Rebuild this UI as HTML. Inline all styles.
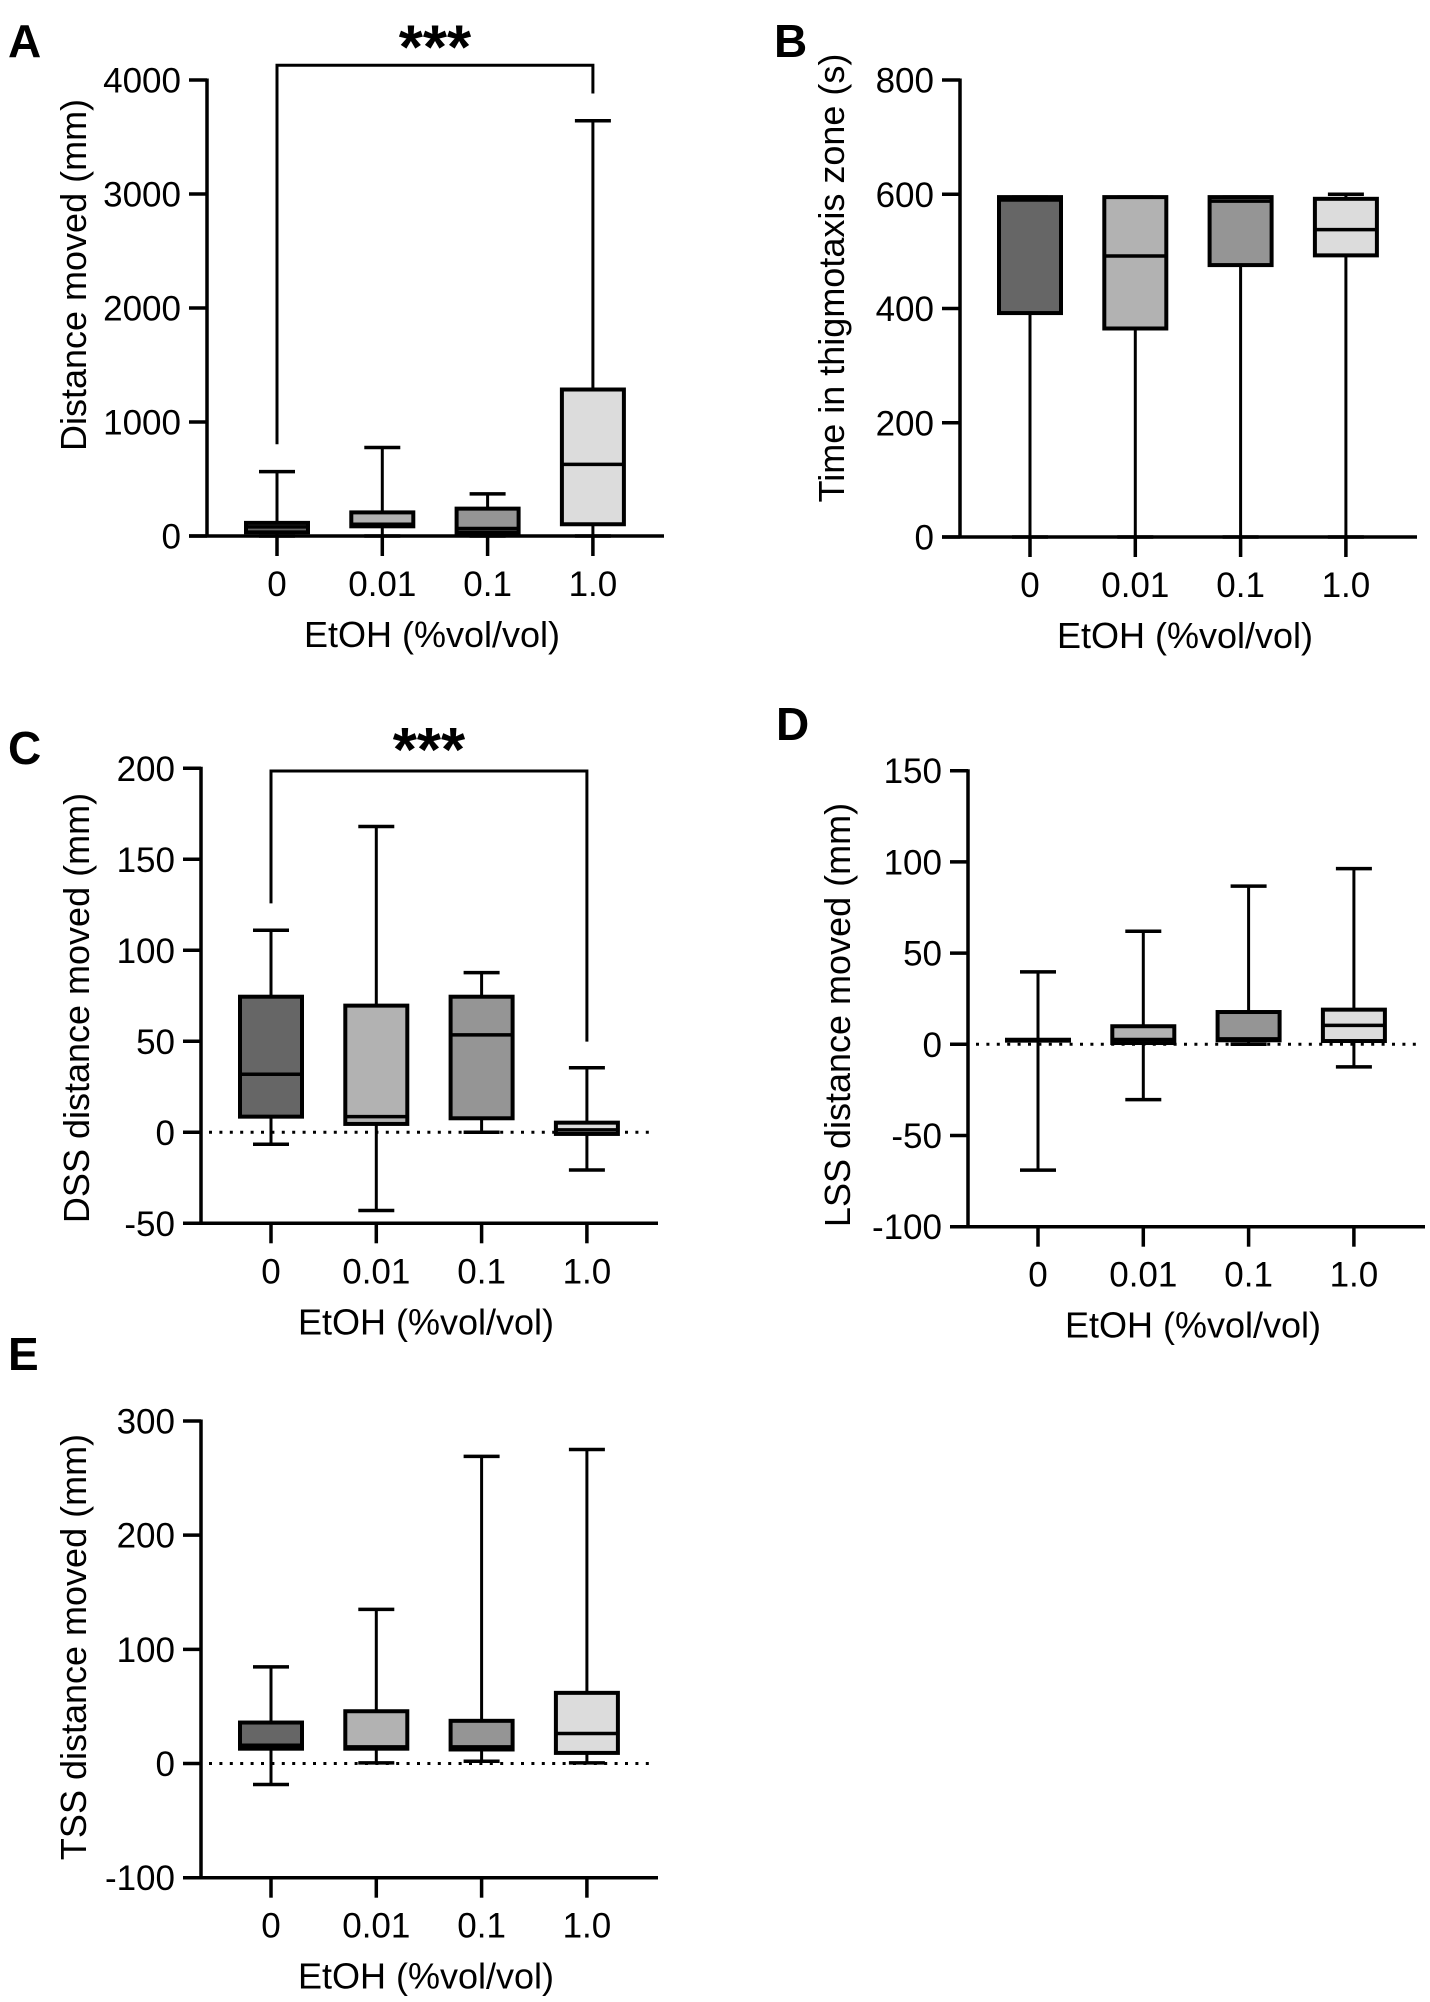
<!DOCTYPE html>
<html><head><meta charset="utf-8"><style>
html,body{margin:0;padding:0;background:#fff}
svg{display:block}
text{font-family:"Liberation Sans",Arial,sans-serif;fill:#000}
</style></head><body>
<svg id="fig" width="1430" height="2002" viewBox="0 0 1430 2002" xmlns="http://www.w3.org/2000/svg"></svg>
<script>
const categories = ["0", "0.01", "0.1", "1.0"];
const groupColors = ["#666666", "#b2b2b2", "#959595", "#dcdcdc"];

const aTicks = [0, 1000, 2000, 3000, 4000];
const aMin = [0, 0, 0, 0];
const aQ1 = [32, 85, 30, 103];
const aMed = [80, 103, 66, 628];
const aQ3 = [115, 207, 240, 1285];
const aMax = [565, 776, 369, 3642];
const aBracket = [805, 4129, 3882];

const bTicks = [0, 200, 400, 600, 800];
const bMin = [0, 0, 0, 0];
const bQ1 = [392, 365, 476, 493];
const bMed = [590, 492, 588, 538];
const bQ3 = [595, 595, 595, 592];
const bMax = [595, 595, 595, 600];

const cTicks = [-50, 0, 50, 100, 150, 200];
const cMin = [-6.6, -43, 0, -20.7];
const cQ1 = [8.6, 4.6, 7.7, -0.9];
const cMed = [31.9, 8.6, 53.5, 1.3];
const cQ3 = [74.5, 69.6, 74.5, 5.3];
const cMax = [111, 168, 87.7, 35.5];
const cBracket = [125.8, 198.5, 49.8];

const dTicks = [-100, -50, 0, 50, 100, 150];
const dMin = [-69, -30.3, 0, -12.4];
const dQ1 = [2, 0.7, 2.2, 1.8];
const dMed = [2.2, 2.6, 3, 10.4];
const dQ3 = [2.5, 9.9, 17.7, 19];
const dMax = [39.7, 62, 86.7, 96.3];

const eTicks = [-100, 0, 100, 200, 300];
const eMin = [-18.4, 0.6, 2, 0.6];
const eQ1 = [13, 13, 12.3, 9.3];
const eMed = [16, 14.6, 14.6, 26.3];
const eQ3 = [35.9, 45.8, 37.4, 61.9];
const eMax = [84.7, 135, 269, 275];

const NS = "http://www.w3.org/2000/svg";
const svg = document.getElementById("fig");
function mk(tag, attrs, parent) {
  const e = document.createElementNS(NS, tag);
  for (const k in attrs) e.setAttribute(k, attrs[k]);
  (parent || svg).appendChild(e);
  return e;
}

function panel(p) {
  const g = mk("g", {});
  
  
  const y = v => p.yBot + (v - p.vMin) / (p.vMax - p.vMin) * (p.yTop - p.yBot);
  const x = i => p.ax + 70 + 105.3 * i;
  const lw = 3.5;
  // panel letter
  const L = mk("text", {x: p.lx, y: p.ly, "font-size": 46, "font-weight": "bold"}, g);
  L.textContent = p.id.toUpperCase();
  
  
  // zero dotted line
  if (p.zero) {
    const z = mk("line", {x1: p.ax + 8, x2: p.ax + 452, y1: y(0), y2: y(0), stroke: "#000", "stroke-width": 3, "stroke-dasharray": "3 7.4"}, g);
    
    
  }
  // y axis
  const ya = mk("line", {x1: p.ax, x2: p.ax, y1: p.yTop - 1.5, y2: p.yBot + 1.5, stroke: "#000", "stroke-width": lw}, g);
  
  
  p.ticks.forEach(t => {
    const tl = mk("line", {x1: p.ax - 18, x2: p.ax, y1: y(t), y2: y(t), stroke: "#000", "stroke-width": lw}, g);
    
    
    const tx = mk("text", {x: p.ax - 26, y: y(t) + 12.5, "font-size": 35, "text-anchor": "end"}, g);
    tx.textContent = t;
    
    
  });
  // x axis
  const xa = mk("line", {x1: p.ax - 18, x2: p.ax + 457, y1: p.yBot, y2: p.yBot, stroke: "#000", "stroke-width": lw}, g);
  
  
  categories.forEach((c, i) => {
    const tl = mk("line", {x1: x(i), x2: x(i), y1: p.yBot, y2: p.yBot + 20, stroke: "#000", "stroke-width": lw}, g);
    
    
    const tx = mk("text", {x: x(i), y: p.yBot + 60, "font-size": 35, "text-anchor": "middle"}, g);
    tx.textContent = c;
    
    
  });
  const xt = mk("text", {x: p.ax + 225, y: p.yBot + 111, "font-size": 36, "text-anchor": "middle"}, g);
  xt.textContent = "EtOH (%vol/vol)";
  
  
  const yt = mk("text", {x: 0, y: 0, "font-size": 36, "text-anchor": "middle", transform: "translate(" + p.tx + "," + p.ty + ") rotate(-90)"}, g);
  yt.textContent = p.title;
  
  
  // boxes
  categories.forEach((c, i) => {
    const cx = x(i);
    const bg = mk("g", {}, g);
    
    
    const w1 = mk("line", {x1: cx, x2: cx, y1: y(p.max[i]), y2: y(p.q3[i]), stroke: "#000", "stroke-width": 3}, bg);
    
    
    const w2 = mk("line", {x1: cx, x2: cx, y1: y(p.q1[i]), y2: y(p.min[i]), stroke: "#000", "stroke-width": 3}, bg);
    
    
    [p.max[i], p.min[i]].forEach(v => {
      const cap = mk("line", {x1: cx - 18, x2: cx + 18, y1: y(v), y2: y(v), stroke: "#000", "stroke-width": 3.5}, bg);
      
      
    });
    const top = y(p.q3[i]), bot = y(p.q1[i]);
    const r = mk("rect", {x: cx - 31, y: top, width: 62, height: Math.max(bot - top, 0.5), fill: groupColors[i], stroke: "#000", "stroke-width": 4}, bg);
    
    
    const m = mk("line", {x1: cx - 31, x2: cx + 31, y1: y(p.med[i]), y2: y(p.med[i]), stroke: "#000", "stroke-width": 3.5}, bg);
    
    
  });
  // significance bracket
  if (p.bracket) {
    const b = p.bracket;
    const pl = mk("polyline", {points: [x(0), y(b[0]), x(0), y(b[1]), x(3), y(b[1]), x(3), y(b[2])].join(" "), fill: "none", stroke: "#000", "stroke-width": 3}, g);
    
    
    const s = mk("text", {x: (x(0) + x(3)) / 2, y: y(b[1]) + p.starDy, "font-size": 62, "font-weight": "bold", "text-anchor": "middle"}, g);
    s.textContent = "***";
    
    
  }
}

panel({id: "a", ax: 207, yTop: 80, yBot: 536, vMin: 0, vMax: 4000, ticks: aTicks, min: aMin, q1: aQ1, med: aMed, q3: aQ3, max: aMax, bracket: aBracket, starDy: 3, zero: false, lx: 8, ly: 57, tx: 86, ty: 275, title: "Distance moved (mm)"});
panel({id: "b", ax: 960, yTop: 80, yBot: 537, vMin: 0, vMax: 800, ticks: bTicks, min: bMin, q1: bQ1, med: bMed, q3: bQ3, max: bMax, zero: false, lx: 774, ly: 57, tx: 844, ty: 278, title: "Time in thigmotaxis zone (s)"});
panel({id: "c", ax: 201, yTop: 768.3, yBot: 1223.3, vMin: -50, vMax: 200, ticks: cTicks, min: cMin, q1: cQ1, med: cMed, q3: cQ3, max: cMax, bracket: cBracket, starDy: 0, zero: true, lx: 8, ly: 764, tx: 89, ty: 1008, title: "DSS distance moved (mm)"});
panel({id: "d", ax: 968, yTop: 770.7, yBot: 1226.7, vMin: -100, vMax: 150, ticks: dTicks, min: dMin, q1: dQ1, med: dMed, q3: dQ3, max: dMax, zero: true, lx: 776, ly: 740, tx: 850, ty: 1015, title: "LSS distance moved (mm)"});
panel({id: "e", ax: 201, yTop: 1421, yBot: 1877.7, vMin: -100, vMax: 300, ticks: eTicks, min: eMin, q1: eQ1, med: eMed, q3: eQ3, max: eMax, zero: true, lx: 8, ly: 1370, tx: 86, ty: 1647, title: "TSS distance moved (mm)"});
</script>
</body></html>
